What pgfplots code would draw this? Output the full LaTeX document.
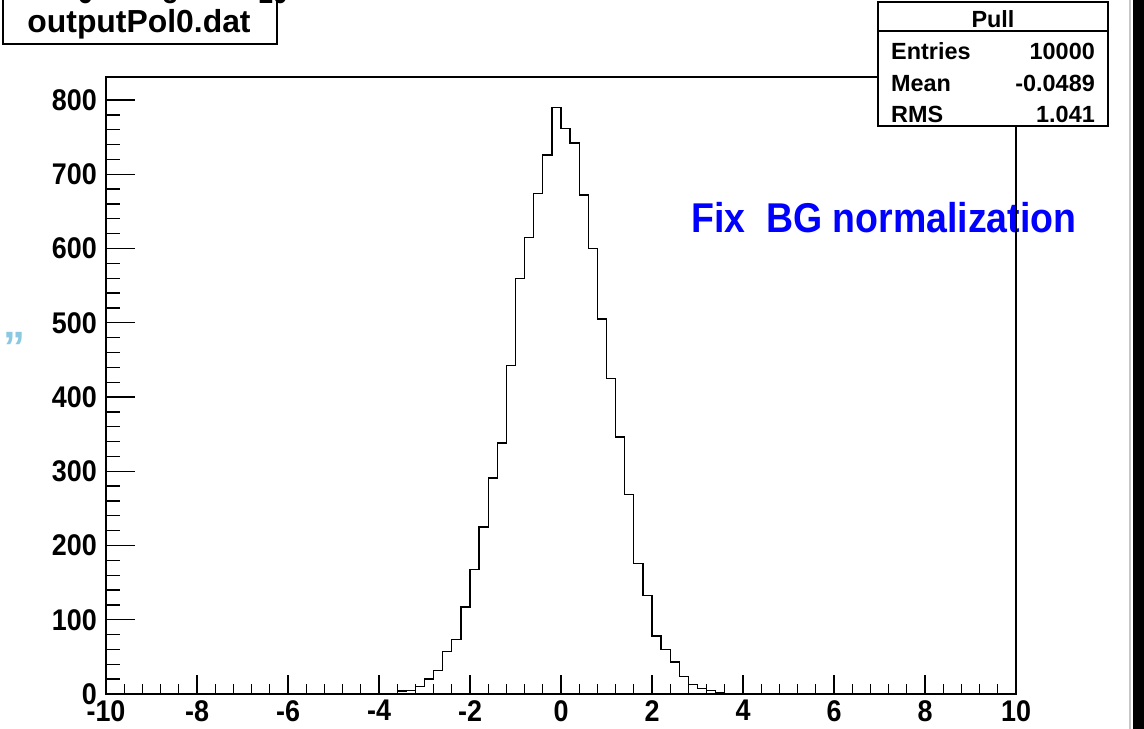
\documentclass[border=0pt]{standalone}
\usepackage{fontspec}
\setmainfont{Liberation Sans}
\newfontfamily\rootfont[FakeStretch=0.9]{Liberation Sans}
\usepackage{pgfplots}
\pgfplotsset{compat=1.18}
\definecolor{rootblue}{RGB}{0,0,255}
\definecolor{slideblue}{RGB}{140,200,225}
\begin{document}
\begin{tikzpicture}[x=1bp,y=1bp]
\useasboundingbox (0,0) rectangle (1144,729);
\clip (0,0) rectangle (1144,729);
\fill[white] (0,0) rectangle (1144,729);
\node[anchor=base west, inner sep=0, text=rootblue, font=\rootfont\fontsize{41.8}{41.8}\selectfont\bfseries] at (691,496) {Fix\ \ BG normalization};
\begin{axis}[
  at={(106bp,35bp)}, anchor=south west, scale only axis,
  width=910bp, height=617bp,
  xmin=-10, xmax=10, ymin=0, ymax=831,
  axis line style={line width=1.3bp},
  tick align=inside, xtick pos=left, ytick pos=left,
  xtick={-10,-8,...,10}, ytick={0,100,...,800},
  minor x tick num=4, minor y tick num=4,
  major tick style={line width=1.3bp, black},
  minor tick style={line width=1.3bp, black},
  xtick style={/pgfplots/major tick length=19bp,/pgfplots/minor tick length=9.5bp},
  ytick style={/pgfplots/major tick length=29bp,/pgfplots/minor tick length=14bp},
  ticklabel style={font=\rootfont\fontsize{30}{30}\selectfont\bfseries, inner sep=0pt},
  xticklabel style={anchor=north, yshift=-6bp},
  yticklabel style={anchor=east, xshift=-9bp},
  /pgf/number format/assume math mode=true,
  scaled ticks=false,
]
\addplot[const plot mark left, line width=1.3bp, black, mark=none] table {
x y
-3.8 0
-3.6 4
-3.4 5
-3.2 10
-3.0 20
-2.8 32
-2.6 57
-2.4 73
-2.2 117
-2.0 168
-1.8 225
-1.6 291
-1.4 338
-1.2 442
-1.0 560
-0.8 615
-0.6 674
-0.4 726
-0.2 790
0.0 762
0.2 742
0.4 672
0.6 600
0.8 505
1.0 425
1.2 346
1.4 269
1.6 176
1.8 133
2.0 78
2.2 60
2.4 43
2.6 24
2.8 13
3.0 7
3.2 5
3.4 2
3.6 0
};
\end{axis}
% stats box
\draw[fill=white, line width=1.3bp] (878,603) rectangle (1108,727);
\draw[line width=1.3bp] (878,698) -- (1108,698);
\begin{scope}[every node/.style={inner sep=0, font=\fontsize{23.5}{23.5}\selectfont\bfseries}]
\node[anchor=base] at (993,701) {Pull};
\node[anchor=base west] at (891,669) {Entries};
\node[anchor=base east] at (1095,669) {10000};
\node[anchor=base west] at (891,637) {Mean};
\node[anchor=base east] at (1095,637) {-0.0489};
\node[anchor=base west] at (891,606) {RMS};
\node[anchor=base east] at (1095,606) {1.041};
\end{scope}
% title box
\draw[fill=white, line width=1.3bp] (3,685) rectangle (277,760);
\node[anchor=base, inner sep=0, font=\fontsize{32}{32}\selectfont\bfseries] at (139,696) {outputPol0.dat};
% cut-off labels from slide above
\begin{scope}[every node/.style={inner sep=0, anchor=base, font=\rootfont\fontsize{30}{30}\selectfont\bfseries}]
\node at (85,725) {6};
\node at (170,725) {8};
\node at (273,725) {10};
\end{scope}
\node[inner sep=0, text=slideblue, font=\fontsize{44}{44}\selectfont\bfseries] at (14,382) {”};
% right edge of slide
\fill[black!22] (1129,0) rectangle (1131,729);
\fill[black] (1133,0) rectangle (1144,729);
\end{tikzpicture}
\end{document}
